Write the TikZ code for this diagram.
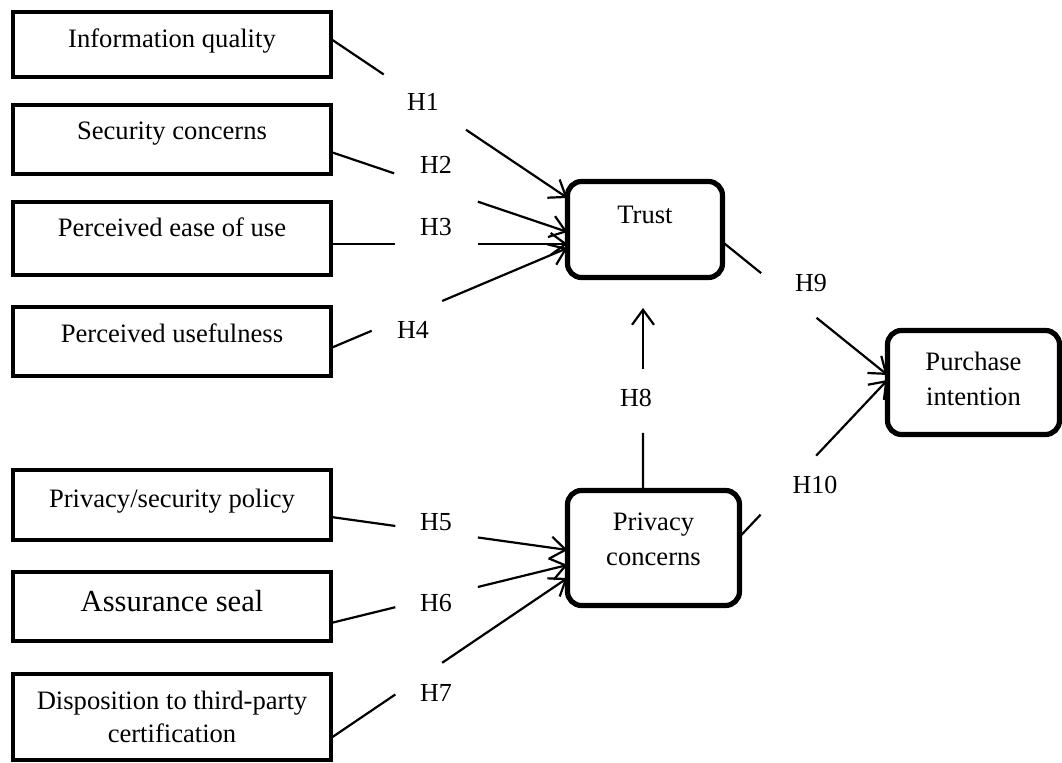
\documentclass[tikz,border=0pt]{standalone}
\usepackage{fontspec}
\setmainfont{Liberation Serif}
\usetikzlibrary{arrows.meta,calc}
\begin{document}
\begin{tikzpicture}[x=0.5pt,y=-0.5pt,
  every node/.style={font=\fontsize{13.3}{17.5}\selectfont, inner sep=0pt, outer sep=0pt},
  sqbox/.style={draw, line width=2.3pt, minimum width=159pt, anchor=base},
  rbox/.style={draw, line width=2.6pt, rounded corners=7pt, anchor=base},
  conn/.style={line width=1.1pt},
  arr/.style={conn, -{Straight Barb[length=7.5pt,width=11pt]}},
  hlab/.style={font=\fontsize{13}{15}\selectfont}
]
\useasboundingbox (0,0) rectangle (1062,763);

% antecedent boxes
\node[sqbox, text height=18pt, text depth=14.5pt] (iq) at (172,48) {Information quality};
\node[sqbox, text height=17.5pt, text depth=17pt] (sc) at (172,140) {Security concerns};
\node[sqbox, text height=17.5pt, text depth=19pt] (peu) at (172,237) {Perceived ease of use};
\node[sqbox, text height=18pt, text depth=16.5pt] (pu) at (172,343) {Perceived usefulness};
\node[sqbox, text height=19pt, text depth=16pt] (psp) at (172,508) {Privacy/security policy};
\node[sqbox, text height=20pt, text depth=14.5pt, font=\fontsize{15.3}{18}\selectfont] (as) at (172,612) {Assurance seal};
\node[sqbox, text height=18pt, text depth=25pt, font=\fontsize{13.3}{16.5}\selectfont] (disp) at (172,710)
  {\begin{tabular}[t]{@{}c@{}}Disposition to third-party\\certification\end{tabular}};

% construct boxes
\node[rbox, minimum width=77.5pt, text height=21.25pt, text depth=26.75pt] (trust) at (645,224) {Trust};
\node[rbox, minimum width=86pt, text height=20.25pt, text depth=37.25pt] (pc) at (653.5,531)
  {\begin{tabular}[t]{@{}c@{}}Privacy\\concerns\end{tabular}};
\node[rbox, minimum width=86pt, text height=20.25pt, text depth=31.75pt] (pi) at (973.5,371)
  {\begin{tabular}[t]{@{}c@{}}Purchase\\intention\end{tabular}};

% end points
\coordinate (s1) at ([yshift=2.75pt]iq.east);
\coordinate (e1) at ([yshift=15.75pt]trust.west);
\coordinate (s2) at ([yshift=-6.25pt]sc.east);
\coordinate (e2) at ([yshift=-1.25pt]trust.west);
\coordinate (s3) at ([yshift=-2.75pt]peu.east);
\coordinate (e3) at ([yshift=-7.25pt]trust.west);
\coordinate (s4) at ([yshift=-3.25pt]pu.east);
\coordinate (e4) at ([yshift=-9.25pt]trust.west);
\coordinate (s5) at ([yshift=-6pt]psp.east);
\coordinate (e5) at ([yshift=-1pt]pc.west);
\coordinate (s6) at ([yshift=-8.25pt]as.east);
\coordinate (e6) at ([yshift=-8.5pt]pc.west);
\coordinate (s7) at ([yshift=-10.5pt]disp.east);
\coordinate (e7) at ([yshift=-15pt]pc.west);
\coordinate (s8) at ([xshift=-1pt]trust.south |- pc.north);
\coordinate (e8) at ([xshift=-1pt]trust.south);
\coordinate (s9) at ([yshift=-6.25pt]trust.east);
\coordinate (e9) at ([yshift=3.75pt]pi.west);
\coordinate (s10) at ([yshift=5.5pt]pc.east);
\coordinate (e10) at ([yshift=1.25pt]pi.west);

% connectors (broken around their labels)
\draw[conn] (s1) -- ($(s1)!0.223!(e1)$);
\draw[arr] ($(s1)!0.571!(e1)$) -- (e1);
\draw[conn] (s2) -- ($(s2)!0.267!(e2)$);
\draw[arr] ($(s2)!0.621!(e2)$) -- (e2);
\draw[conn] (s3) -- ($(s3)!0.270!(e3)$);
\draw[arr] ($(s3)!0.622!(e3)$) -- (e3);
\draw[conn] (s4) -- ($(s4)!0.172!(e4)$);
\draw[arr] ($(s4)!0.470!(e4)$) -- (e4);
\draw[conn] (s5) -- ($(s5)!0.272!(e5)$);
\draw[arr] ($(s5)!0.621!(e5)$) -- (e5);
\draw[conn] (s6) -- ($(s6)!0.272!(e6)$);
\draw[arr] ($(s6)!0.621!(e6)$) -- (e6);
\draw[conn] (s7) -- ($(s7)!0.272!(e7)$);
\draw[arr] ($(s7)!0.470!(e7)$) -- (e7);
\draw[conn] (s8) -- ($(s8)!0.27!(e8)$);
\draw[arr] ($(s8)!0.57!(e8)$) -- ($(s8)!0.857!(e8)$);
\draw[conn] (s9) -- ($(s9)!0.234!(e9)$);
\draw[arr] ($(s9)!0.570!(e9)$) -- (e9);
\draw[conn] (s10) -- ($(s10)!0.142!(e10)$);
\draw[arr] ($(s10)!0.518!(e10)$) -- (e10);

% hypothesis labels
\node[hlab] (h1) at (423,102) {H1};
\node[hlab] (h2) at (436,165) {H2};
\node[hlab] (h3) at (436,227) {H3};
\node[hlab] (h4) at (413,330) {H4};
\node[hlab] (h5) at (436,522) {H5};
\node[hlab] (h6) at (436,603) {H6};
\node[hlab] (h7) at (436,693) {H7};
\node[hlab] (h8) at (636,398) {H8};
\node[hlab] (h9) at (811,283) {H9};
\node[hlab] (h10) at (815,485) {H10};
\end{tikzpicture}
\end{document}
